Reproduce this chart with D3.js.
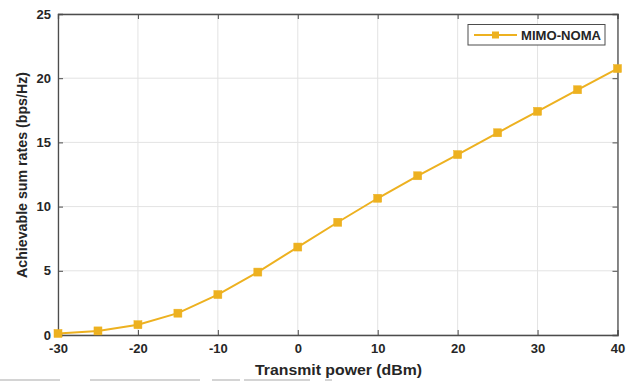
<!DOCTYPE html>
<html><head><meta charset="utf-8">
<script src="https://cdn.jsdelivr.net/npm/d3@7"></script>
<style>body{margin:0;background:#fff;}svg{display:block;}</style>
</head><body>
<svg id="c" width="640" height="381"></svg>
<script>
const power = [-30,-25,-20,-15,-10,-5,0,5,10,15,20,25,30,35,40];
const rates = [0.12,0.32,0.8,1.7,3.15,4.9,6.85,8.78,10.65,12.4,14.05,15.75,17.42,19.1,20.75];
const xTicks = [-30,-20,-10,0,10,20,30,40];
const yTicks = [0,5,10,15,20,25];
const seriesName = "MIMO-NOMA";

const svg = d3.select("#c");
const L=58,R=617.5,T=14,B=335;
const x = d3.scaleLinear().domain([-30,40]).range([L,R]);
const y = d3.scaleLinear().domain([0,25]).range([B,T]);
const axisCol="#4d4d4d", col="#EDB120";
const font="'Liberation Sans', Arial, sans-serif";
const fmt = d=>String(d);

// grid
const g=svg.append("g");
g.selectAll(".gx").data(xTicks).enter().append("line")
 .attr("x1",d=>x(d)).attr("x2",d=>x(d)).attr("y1",T).attr("y2",B)
 .attr("stroke","#e3e3e3").attr("stroke-width",1);
g.selectAll(".gy").data(yTicks).enter().append("line")
 .attr("y1",d=>y(d)).attr("y2",d=>y(d)).attr("x1",L).attr("x2",R)
 .attr("stroke","#e3e3e3").attr("stroke-width",1);

// axes
const ax = svg.append("g").attr("transform",`translate(0,${B})`)
 .call(d3.axisBottom(x).tickValues(xTicks).tickFormat(fmt).tickSize(-5).tickPadding(9));
const ay = svg.append("g").attr("transform",`translate(${L},0)`)
 .call(d3.axisLeft(y).tickValues(yTicks).tickFormat(fmt).tickSize(-5).tickPadding(7));
const at = svg.append("g").attr("transform",`translate(0,${T})`)
 .call(d3.axisTop(x).tickValues(xTicks).tickSize(-5).tickFormat(""));
const ar = svg.append("g").attr("transform",`translate(${R},0)`)
 .call(d3.axisRight(y).tickValues(yTicks).tickSize(-5).tickFormat(""));
[ax,ay,at,ar].forEach(a=>{
  a.selectAll("path").attr("stroke",axisCol).attr("stroke-width",1.3);
  a.selectAll("line").attr("stroke",axisCol);
  a.selectAll("text").attr("fill","#262626").attr("font-family",font)
   .attr("font-weight","bold").attr("font-size","13px");
});

// line
const pts = power.map((p,i)=>[p,rates[i]]);
svg.append("path").datum(pts)
 .attr("d",d3.line().x(d=>x(d[0])).y(d=>y(d[1])))
 .attr("fill","none").attr("stroke",col).attr("stroke-width",2);
svg.selectAll(".m").data(pts).enter().append("rect")
 .attr("x",d=>x(d[0])-4).attr("y",d=>y(d[1])-4).attr("width",8).attr("height",8)
 .attr("fill",col).attr("stroke",col).attr("stroke-width",0.5);

// legend
svg.append("rect").attr("x",468).attr("y",24.5).attr("width",137).attr("height",20.5)
 .attr("fill","#fff").attr("stroke","#4d4d4d").attr("stroke-width",1);
svg.append("line").attr("x1",474).attr("x2",517).attr("y1",35).attr("y2",35)
 .attr("stroke",col).attr("stroke-width",2);
svg.append("rect").attr("x",495.5-3.5).attr("y",31.5).attr("width",7).attr("height",7).attr("fill",col);
svg.append("text").attr("x",521).attr("y",39.5).text(seriesName)
 .attr("font-family",font).attr("font-weight","bold").attr("font-size","12px")
 .attr("textLength",80).attr("lengthAdjust","spacingAndGlyphs").attr("fill","#262626");

// labels
svg.append("text").attr("x",255).attr("y",375)
 .text("Transmit power (dBm)").attr("font-family",font).attr("font-weight","bold")
 .attr("font-size","14px").attr("textLength",167).attr("lengthAdjust","spacingAndGlyphs").attr("fill","#262626");
svg.append("text").attr("transform",`translate(27,278) rotate(-90)`)
 .text("Achievable sum rates (bps/Hz)").attr("font-family",font).attr("font-weight","bold")
 .attr("font-size","14px").attr("textLength",206).attr("lengthAdjust","spacingAndGlyphs").attr("fill","#262626");

// faint scan artifacts at bottom edge
const art=[[0,60],[90,200],[212,240],[244,310],[325,332]];
svg.selectAll(".art").data(art).enter().append("rect")
 .attr("x",d=>d[0]).attr("width",d=>d[1]-d[0]).attr("y",379).attr("height",2)
 .attr("fill","#d4d4d4");
</script>
</body></html>
